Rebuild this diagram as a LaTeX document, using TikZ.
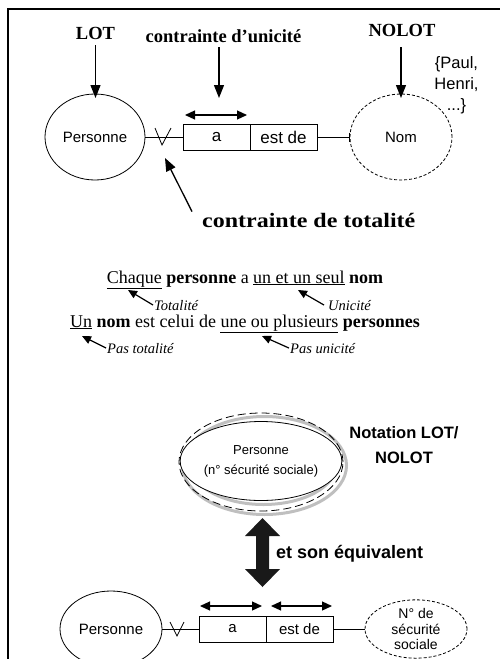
\documentclass[tikz,border=0pt]{standalone}
\usepackage{fontspec}
\setmainfont{Liberation Serif}
\setsansfont{Liberation Sans}
\usetikzlibrary{arrows.meta,shapes.geometric}
\begin{document}
\begin{tikzpicture}[x=1pt,y=-1pt,
  ptr/.style={line width=1.3pt,-{Triangle[length=13pt,width=10pt]}},
  smallptr/.style={line width=1.2pt,-{Triangle[length=9pt,width=8pt]}},
  dptr/.style={line width=1.2pt,{Triangle[length=10pt,width=9pt]}-{Triangle[length=10pt,width=9pt]}},
  toplbl/.style={font=\fontsize{18.5}{22}\selectfont\bfseries, inner sep=0pt, anchor=base},
  sentence/.style={font=\fontsize{18}{22}\selectfont, inner sep=0pt, anchor=base},
  itlbl/.style={font=\fontsize{14.5}{17}\selectfont\itshape, inner sep=0pt, anchor=base west},
  sanstxt/.style={font=\sffamily\fontsize{15}{18}\selectfont},
  ent/.style={ellipse, draw, line width=0.8pt, inner sep=0pt, sanstxt},
  nolot/.style={ent, dash pattern=on 3pt off 2pt},
  relbox/.style={rectangle, draw, line width=0.8pt, minimum width=67pt, minimum height=26pt, inner sep=0pt, sanstxt},
  link/.style={line width=0.8pt},
  vmark/.style={line width=0.8pt},
  shadowline/.style={draw=black!25, line width=3pt}
]
\useasboundingbox (0,0) rectangle (500,659);
% frame
\draw[line width=2.2pt] (500,9) -- (8,9) -- (8,659);

% ---------- top diagram ----------
\node[toplbl] (lot) at (95.5,39.5) {LOT};
\node[toplbl] (uniq) at (223.5,42) {contrainte d'unicité};
\node[toplbl] (nolotlbl) at (402,36) {NOLOT};
\node[font=\sffamily\fontsize{16.5}{21}\selectfont, align=center, inner sep=0pt] (vals) at (456.5,85) {\{Paul,\\Henri,\\...\}};

\node[ent, minimum width=100pt, minimum height=86pt] (p1) at (95,137) {Personne};
\node[nolot, minimum width=102pt, minimum height=86pt] (n1) at (401,137) {Nom};
\node[relbox, font=\sffamily\fontsize{17}{18}\selectfont] (ra) at (216.5,137) {a};
\node[relbox, font=\sffamily\fontsize{17}{18}\selectfont] (rb) at (283.5,137) {est de};

\coordinate (lotTip) at (95.5,98);
\coordinate (uniqTip) at (219,98);
\coordinate (nolotTip) at (401,98);
\draw[ptr] ([yshift=-5.5pt]lot.south) -- (lotTip);
\draw[ptr] ([xshift=-4.5pt,yshift=-5pt]uniq.south) -- (uniqTip);
\draw[ptr] ([xshift=-1pt,yshift=-11pt]nolotlbl.south) -- (nolotTip);

\coordinate (uA) at (185,115);
\coordinate (uB) at (247,115);
\draw[dptr] (uA) -- (uB);

\draw[link] (p1.east) -- (ra.west);
\draw[vmark] (155,128) -- (162,145) -- (171,128);
\draw[link] (rb.east) -- (n1.west);
\draw[link] ([yshift=4.5pt]n1.west) -- ([yshift=-4.5pt]n1.west);

\node[font=\fontsize{20.5}{24}\selectfont\bfseries, inner sep=0pt, anchor=base west] (tot) at (202,227) {\scalebox{1.17}[1]{contrainte de totalité}};
\coordinate (totTip) at (165,158);
\draw[ptr] ([xshift=-10pt,yshift=1pt]tot.north west) -- (totTip);

% ---------- sentences ----------
\node[sentence] (s1) at (245,283) {\underline{Chaque} \textbf{personne} a \underline{un et un seul} \textbf{nom}};
\node[sentence] (s2) at (245,327) {\underline{Un} \textbf{nom} est celui de \underline{une ou plusieurs} \textbf{personnes}};

\node[itlbl] (lTot) at (154,310) {Totalité};
\node[itlbl] (lUni) at (328,310) {Unicité};
\node[itlbl] (lPTot) at (107,353) {Pas totalité};
\node[itlbl] (lPUni) at (290,353) {Pas unicité};
\coordinate (tTot) at (128,290);
\coordinate (tUni) at (298,290);
\coordinate (tPTot) at (82,336);
\coordinate (tPUni) at (262,336);
\draw[smallptr] ([xshift=-1pt]lTot.west) -- (tTot);
\draw[smallptr] ([xshift=-4pt]lUni.west) -- (tUni);
\draw[smallptr] ([xshift=-1pt]lPTot.west) -- (tPTot);
\draw[smallptr] ([xshift=-1pt]lPUni.west) -- (tPUni);

% ---------- LOT/NOLOT notation ----------
\draw[shadowline] (264.5,465.5) ellipse [x radius=82pt, y radius=49pt];
\draw[shadowline] (263.5,465) ellipse [x radius=72.5pt, y radius=39.5pt];
\node[ellipse, draw, line width=0.8pt, dash pattern=on 8pt off 4pt, minimum width=164pt, minimum height=98pt, inner sep=0pt] (nout) at (261,462) {};
\node[ellipse, draw, fill=white, line width=0.8pt, minimum width=145pt, minimum height=79pt, inner sep=0pt,
      font=\sffamily\fontsize{13}{20}\selectfont, align=center] (nin) at (261,461) {Personne\\(n° sécurité sociale)};
\node[font=\sffamily\fontsize{16.5}{25}\selectfont\bfseries, align=center, inner sep=0pt] (notation) at (404,445) {Notation LOT/\\NOLOT};

% big double arrow
\fill[black!90] (262.5,518) -- (280,536) -- (269,536) -- (269,569) -- (280,569) -- (262.5,587)
  -- (245,569) -- (256,569) -- (256,536) -- (245,536) -- cycle;
\node[font=\sffamily\fontsize{18}{20}\selectfont\bfseries, inner sep=0pt, anchor=base west] (equiv) at (276,558) {et son équivalent};

% ---------- bottom diagram ----------
\node[ent, minimum width=102pt, minimum height=76pt] (p2) at (111,629) {Personne};
\node[nolot, minimum width=102pt, minimum height=57pt, font=\sffamily\fontsize{14}{15.5}\selectfont, align=center] (n2) at (416,629) {N° de\\sécurité\\sociale};
\node[relbox] (ra2) at (232.5,629) {a};
\node[relbox] (rb2) at (299.5,629) {est de};

\coordinate (bA1) at (200,606);
\coordinate (bB1) at (262,606);
\coordinate (bA2) at (271,606);
\coordinate (bB2) at (332,606);
\draw[dptr] (bA1) -- (bB1);
\draw[dptr] (bA2) -- (bB2);

\draw[link] (p2.east) -- (ra2.west);
\draw[vmark] (170,622) -- (177,636) -- (184,622);
\draw[link] (rb2.east) -- (n2.west);
\end{tikzpicture}
\end{document}
